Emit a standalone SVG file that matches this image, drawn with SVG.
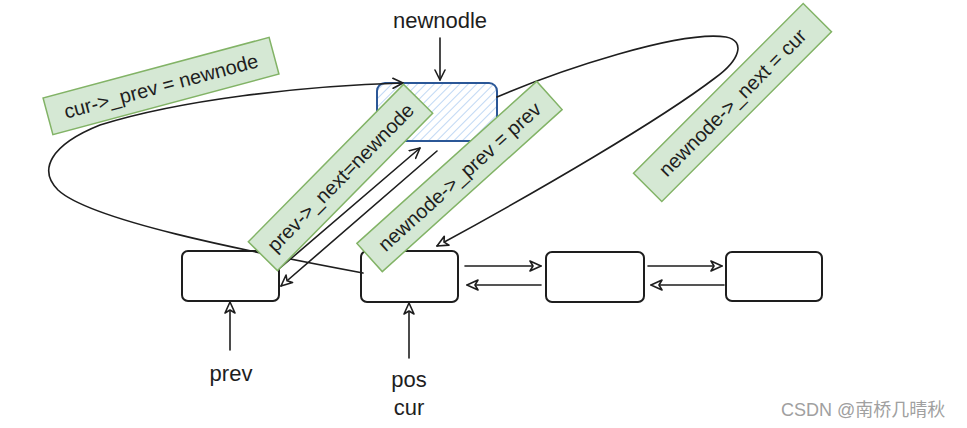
<svg xmlns="http://www.w3.org/2000/svg" width="967" height="428" viewBox="0 0 967 428">
  <defs>
    <style>
      .box { fill: #ffffff; stroke: #1e1e1e; stroke-width: 2; }
      .nn { fill: url(#hatch); stroke: #2b5797; stroke-width: 2; }
      .edge { fill: none; stroke: #1e1e1e; stroke-width: 1.6; stroke-linecap: round; }
      .lbl { fill: #d5e8d4; stroke: #82b366; stroke-width: 1.5; }
      .t { font-family: "Liberation Sans", "Open Sans", sans-serif; font-size: 20px; fill: #1e1e1e; text-anchor: middle; dominant-baseline: central; }
      .t2 { font-family: "Liberation Sans", "Open Sans", sans-serif; font-size: 22px; fill: #1e1e1e; text-anchor: middle; }
      .wm { font-family: "Liberation Sans", "Noto Sans CJK SC", sans-serif; font-size: 18px; fill: #a0a0a0; }
    </style>
    <pattern id="hatch" width="6" height="6" patternUnits="userSpaceOnUse" patternTransform="rotate(45)">
      <rect width="6" height="6" fill="#ffffff"/>
      <line x1="0" y1="0" x2="0" y2="6" stroke="#a5c8f0" stroke-width="1.4"/>
    </pattern>
    <marker id="v" viewBox="0 0 12 12" refX="11" refY="6" markerWidth="12" markerHeight="12" markerUnits="userSpaceOnUse" orient="auto">
      <path d="M1,1 L11,6 L1,11" fill="none" stroke="#1e1e1e" stroke-width="1.6" stroke-linecap="round" stroke-linejoin="round"/>
    </marker>
    <marker id="tri" viewBox="0 0 14 14" refX="13" refY="7" markerWidth="14" markerHeight="14" markerUnits="userSpaceOnUse" orient="auto">
      <path d="M2,2 L13,7 L2,12 L5,7 Z" fill="#ffffff" stroke="#1e1e1e" stroke-width="1.6" stroke-linejoin="round"/>
    </marker>
  </defs>

  <g id="node-newnode">
    <rect class="nn" x="377" y="83" width="120" height="58" rx="8"/>
  </g>
  <g id="node-prev">
    <rect class="box" x="182" y="251" width="97" height="50" rx="6"/>
  </g>
  <g id="node-cur">
    <rect class="box" x="361" y="251" width="97" height="51" rx="6"/>
  </g>
  <g id="node-3">
    <rect class="box" x="546" y="252" width="98" height="50" rx="6"/>
  </g>
  <g id="node-4">
    <rect class="box" x="726" y="252" width="96" height="49" rx="6"/>
  </g>

  <g id="text-newnodle">
    <text class="t2" x="440" y="28">newnodle</text>
  </g>
  <g id="text-prev">
    <text class="t2" x="231" y="381">prev</text>
  </g>
  <g id="text-poscur">
    <text class="t2" x="409" y="387">pos</text>
    <text class="t2" x="409" y="415">cur</text>
  </g>

  <g id="connectors">
    <path class="edge" d="M440,38 L440,80" marker-end="url(#v)"/>
    <path class="edge" d="M363,273 C240,250 90,220 58,190 C38,170 50,145 100,125 C180,100 300,86 403,83" marker-end="url(#v)"/>
    <path class="edge" d="M497,97 C560,70 680,30 726,37 C746,41 740,60 715,78 C660,120 540,190 437,246" marker-end="url(#tri)"/>
    <path class="edge" d="M280,268 L420,148" marker-end="url(#v)"/>
    <path class="edge" d="M437,151 L281,286" marker-end="url(#tri)"/>
    <path class="edge" d="M230,350 L230,302" marker-end="url(#tri)"/>
    <path class="edge" d="M409,358 L409,303" marker-end="url(#tri)"/>
    <path class="edge" d="M465,266 L541,266" marker-end="url(#tri)"/>
    <path class="edge" d="M541,285 L467,285" marker-end="url(#tri)"/>
    <path class="edge" d="M648,266 L722,266" marker-end="url(#tri)"/>
    <path class="edge" d="M724,285 L651,285" marker-end="url(#tri)"/>
  </g>

  <g id="label-cur-prev" transform="translate(161,86) rotate(-15)">
    <rect class="lbl" x="-117" y="-19" width="234" height="38"/>
    <text class="t" x="0" y="0">cur-&gt;_prev = newnode</text>
  </g>
  <g id="label-prev-next" transform="translate(340.5,177.5) rotate(-45.4)">
    <rect class="lbl" x="-110.5" y="-20.5" width="221" height="41"/>
    <text class="t" x="0" y="0">prev-&gt;_next=newnode</text>
  </g>
  <g id="label-newnode-prev" transform="translate(459.5,176.5) rotate(-42)">
    <rect class="lbl" x="-121" y="-19" width="242" height="38"/>
    <text class="t" x="0" y="0">newnode-&gt;_prev = prev</text>
  </g>
  <g id="label-newnode-next" transform="translate(732.5,102.5) rotate(-45)">
    <rect class="lbl" x="-120" y="-20" width="240" height="40"/>
    <text class="t" x="0" y="0">newnode-&gt;_next = cur</text>
  </g>

  <g id="watermark">
    <text class="wm" x="781" y="416">CSDN @南桥几晴秋</text>
  </g>
</svg>
